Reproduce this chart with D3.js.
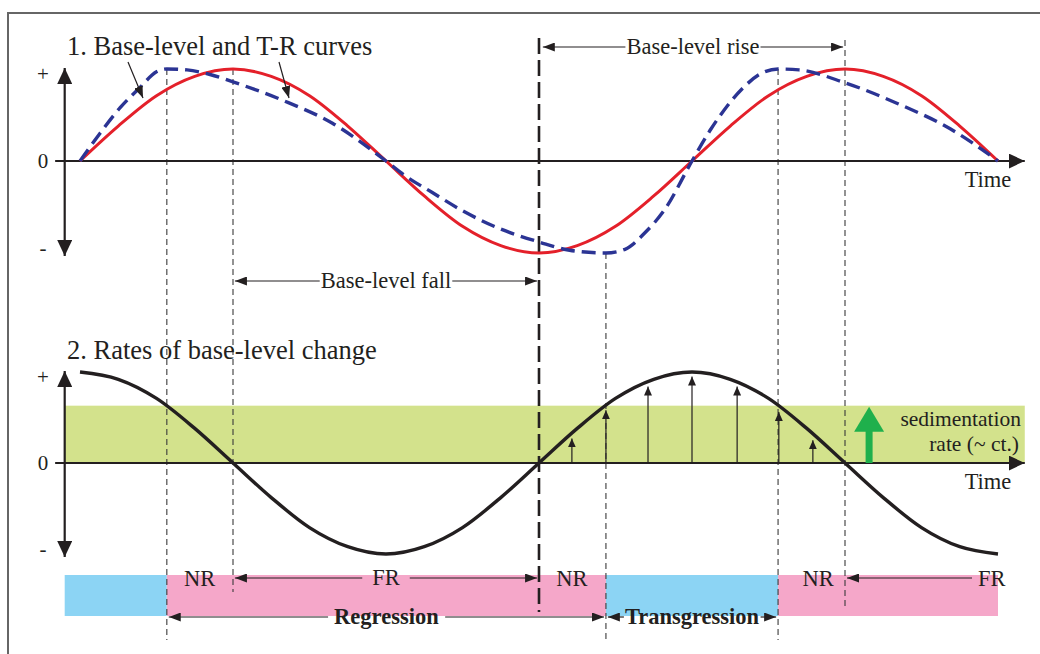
<!DOCTYPE html>
<html>
<head>
<meta charset="utf-8">
<script src="https://cdn.jsdelivr.net/npm/d3@7"></script>
<style>
  body { margin: 0; background: #fff; }
  svg text { font-family: "Liberation Serif", "Times New Roman", serif; fill: #231f20; }
</style>
</head>
<body>
<div id="chart"></div>
<script>
// time in arbitrary units, 0..24 = one and a half cycles
const timeSteps = d3.range(0, 25);
const baseLevel = [0, .38, .71, .92, 1, .92, .71, .38, 0, -.38, -.71, -.92, -1, -.92, -.71, -.38, 0, .38, .71, .92, 1, .92, .71, .38, 0];
const rateOfChange = [1, .92, .71, .38, 0, -.38, -.71, -.92, -1, -.92, -.71, -.38, 0, .38, .71, .92, 1, .92, .71, .38, 0, -.38, -.71, -.92, -1];

// T-R curve
const trTime  = [0, .52, 1.05, 1.57, 2.0, 2.27, 2.8, 3.4, 4, 5.3, 6.6, 8, 8.5, 9.2, 10.04, 11, 12, 12.8, 13.75, 14.25, 14.77, 15.3, 16, 16.5, 17.3, 17.8, 18.25, 18.8, 20, 21.4, 22.75, 24];
const trValue = [0, .30, .58, .80, .97, 1, .99, .94, .86, .66, .41, 0, -.16, -.34, -.55, -.74, -.88, -.97, -1, -.96, -.78, -.52, 0, .35, .78, .95, 1, .99, .85, .62, .35, 0];

// turning points of the T-R curve and base-level curve
const maxRegression = [2.27, 18.25];
const maxTransgression = [13.75];
const baseLevelHigh = [4, 20];
const baseLevelLow = 12;

// sedimentation rate (constant) and rates of base-level rise (arrows)
const sedRate = 0.63;
const sedArrowTime = 20.63;
const riseTime  = [12.86, 13.75, 14.85, 16, 17.18, 18.27, 19.16];
const riseValue = [.27, .58, .84, .95, .84, .56, .25];

// shoreline trajectory bars
const tractStart = [-0.4, 2.27, 13.75, 18.25];
const tractEnd   = [2.27, 13.75, 18.25, 24];
const tractType  = ['T', 'R', 'T', 'R'];
const phaseLabel = ['NR', 'FR', 'NR', 'NR', 'FR'];
const phaseTime  = [3.13, 7.97, 12.86, 19.3, 23.84];

const signLabels = ['+', '0', '-'];

const width = 1040, height = 654;

const svg = d3.select('#chart').append('svg')
  .attr('width', width).attr('height', height);

const defs = svg.append('defs');
function marker(id, w, h, color) {
  defs.append('marker')
    .attr('id', id)
    .attr('viewBox', `0 0 ${w} ${h}`)
    .attr('refX', w).attr('refY', h / 2)
    .attr('markerWidth', w).attr('markerHeight', h)
    .attr('markerUnits', 'userSpaceOnUse')
    .attr('orient', 'auto-start-reverse')
    .append('path')
    .attr('d', `M0,0L${w},${h / 2}L0,${h}Z`)
    .attr('fill', color);
}
marker('big', 16, 15, '#231f20');
marker('small', 12, 9, '#231f20');
marker('tiny', 9, 8, '#231f20');

const x = d3.scaleLinear().domain([0, 24]).range([80, 998]);
const yTop = d3.scaleLinear().domain([-1, 1]).range([253, 69]);
const yBot = d3.scaleLinear().domain([-1, 1]).range([554, 372]);

const axisT = -0.4, axisStart = -0.65, axisEnd = 24.7;
const labelSize = 22.5;

// frame
svg.append('path')
  .attr('d', `M8,${height}V13H${width}`)
  .attr('fill', 'none').attr('stroke', '#666').attr('stroke-width', 2);

// green sedimentation band
svg.append('rect')
  .attr('x', x(axisT)).attr('y', yBot(sedRate))
  .attr('width', x(axisEnd) - x(axisT))
  .attr('height', yBot(0) - yBot(sedRate))
  .attr('fill', '#d3e28c');

// shoreline trajectory bars
svg.selectAll('rect.tract')
  .data(tractStart)
  .join('rect')
  .attr('class', 'tract')
  .attr('x', d => x(d))
  .attr('y', 575)
  .attr('width', (d, i) => x(tractEnd[i]) - x(d))
  .attr('height', 41)
  .attr('fill', (d, i) => tractType[i] === 'T' ? '#8cd4f4' : '#f5a7c9');

// thin dashed guide lines
const guides = [
  { t: maxRegression[0], y1: yTop(1), y2: 640 },
  { t: baseLevelHigh[0], y1: yTop(1), y2: 592 },
  { t: maxTransgression[0], y1: yTop(-1), y2: 640 },
  { t: maxRegression[1], y1: yTop(1), y2: 640 },
  { t: baseLevelHigh[1], y1: 40, y2: 610 }
];
svg.selectAll('line.guide')
  .data(guides)
  .join('line')
  .attr('class', 'guide')
  .attr('x1', d => x(d.t)).attr('x2', d => x(d.t))
  .attr('y1', d => d.y1).attr('y2', d => d.y2)
  .attr('stroke', '#3a3a3a').attr('stroke-width', 1.1)
  .attr('stroke-dasharray', '6,4');

// long-dash line at base-level low
svg.append('line')
  .attr('x1', x(baseLevelLow)).attr('x2', x(baseLevelLow))
  .attr('y1', 38).attr('y2', 612)
  .attr('stroke', '#231f20').attr('stroke-width', 2.6)
  .attr('stroke-dasharray', '16,6');

// axes
function drawAxes(y) {
  svg.append('line')
    .attr('x1', x(axisT)).attr('x2', x(axisT))
    .attr('y1', y(0)).attr('y2', y(1) - 1)
    .attr('stroke', '#231f20').attr('stroke-width', 2.2)
    .attr('marker-end', 'url(#big)');
  svg.append('line')
    .attr('x1', x(axisT)).attr('x2', x(axisT))
    .attr('y1', y(0)).attr('y2', y(-1) + 3)
    .attr('stroke', '#231f20').attr('stroke-width', 2.2)
    .attr('marker-end', 'url(#big)');
  svg.append('line')
    .attr('x1', x(axisStart)).attr('x2', x(axisEnd))
    .attr('y1', y(0)).attr('y2', y(0))
    .attr('stroke', '#231f20').attr('stroke-width', 2.2)
    .attr('marker-end', 'url(#big)');
  svg.selectAll(null)
    .data(signLabels)
    .join('text')
    .attr('x', 43)
    .attr('y', (d, i) => y([0.95, 0, -0.95][i]) + 7)
    .attr('text-anchor', 'middle')
    .style('font-size', '21px')
    .text(d => d);
  svg.append('text')
    .attr('x', 988).attr('y', y(0) + 26)
    .attr('text-anchor', 'middle')
    .style('font-size', labelSize + 'px')
    .text('Time');
}
drawAxes(yTop);
drawAxes(yBot);

// curves
const line = (y) => d3.line().x(d => x(d[0])).y(d => y(d[1])).curve(d3.curveMonotoneX);

svg.append('path')
  .datum(timeSteps.map((t, i) => [t, baseLevel[i]]))
  .attr('d', line(yTop))
  .attr('fill', 'none').attr('stroke', '#e4202a').attr('stroke-width', 3);

svg.append('path')
  .datum(trTime.map((t, i) => [t, trValue[i]]))
  .attr('d', line(yTop))
  .attr('fill', 'none').attr('stroke', '#2b3494').attr('stroke-width', 3.4)
  .attr('stroke-dasharray', '14,7');

// rate arrows
svg.selectAll('line.rise')
  .data(riseTime)
  .join('line')
  .attr('class', 'rise')
  .attr('x1', d => x(d)).attr('x2', d => x(d))
  .attr('y1', yBot(0)).attr('y2', (d, i) => yBot(riseValue[i]))
  .attr('stroke', '#231f20').attr('stroke-width', 1.2)
  .attr('marker-end', 'url(#tiny)');

svg.append('path')
  .datum(timeSteps.map((t, i) => [t, rateOfChange[i]]))
  .attr('d', line(yBot))
  .attr('fill', 'none').attr('stroke', '#231f20').attr('stroke-width', 3.4);

// green sedimentation arrow
const gx = x(sedArrowTime);
svg.append('line')
  .attr('x1', gx).attr('x2', gx)
  .attr('y1', yBot(0)).attr('y2', yBot(sedRate) + 24)
  .attr('stroke', '#1fb04c').attr('stroke-width', 7);
svg.append('path')
  .attr('d', `M${gx - 15},${yBot(sedRate) + 26}L${gx},${yBot(sedRate) + 1}L${gx + 15},${yBot(sedRate) + 26}Z`)
  .attr('fill', '#1fb04c');
svg.append('text')
  .attr('x', 1021).attr('y', 426)
  .attr('text-anchor', 'end').style('font-size', '21.5px')
  .text('sedimentation');
svg.append('text')
  .attr('x', 1019).attr('y', 451)
  .attr('text-anchor', 'end').style('font-size', '21.5px')
  .text('rate (~ ct.)');

// titles
svg.append('text').attr('x', 67).attr('y', 55)
  .style('font-size', '26.5px').text('1. Base-level and T-R curves');
svg.append('text').attr('x', 67).attr('y', 359)
  .style('font-size', '26.5px').text('2. Rates of base-level change');

// pointers from title to curves
[[128, 62, 143, 98], [279, 62, 289, 98]].forEach(p => {
  svg.append('line')
    .attr('x1', p[0]).attr('y1', p[1]).attr('x2', p[2]).attr('y2', p[3])
    .attr('stroke', '#231f20').attr('stroke-width', 1.2)
    .attr('marker-end', 'url(#small)');
});

// labelled double arrows
function spanArrow(t1, t2, y, label, opts) {
  const o = Object.assign({ size: labelSize, weight: 'normal', pad: 4 }, opts);
  const x1 = x(t1), x2 = x(t2);
  const text = svg.append('text')
    .attr('x', (x1 + x2) / 2).attr('y', y + o.size * 0.33)
    .attr('text-anchor', 'middle')
    .style('font-size', o.size + 'px')
    .style('font-weight', o.weight)
    .text(label);
  const bb = text.node().getBBox();
  svg.append('line')
    .attr('x1', bb.x - o.pad).attr('x2', x1)
    .attr('y1', y).attr('y2', y)
    .attr('stroke', '#231f20').attr('stroke-width', 1.2)
    .attr('marker-end', 'url(#small)');
  svg.append('line')
    .attr('x1', bb.x + bb.width + o.pad).attr('x2', x2)
    .attr('y1', y).attr('y2', y)
    .attr('stroke', '#231f20').attr('stroke-width', 1.2)
    .attr('marker-end', 'url(#small)');
}
spanArrow(baseLevelLow + 0.1, baseLevelHigh[1] - 0.05, 47, 'Base-level rise', { pad: 1 });
spanArrow(baseLevelHigh[0] + 0.05, baseLevelLow - 0.05, 281, 'Base-level fall', { pad: 1 });
spanArrow(baseLevelHigh[0] + 0.05, baseLevelLow - 0.05, 578, 'FR', { pad: 10 });
spanArrow(maxRegression[0] + 0.05, maxTransgression[0] - 0.05, 617, 'Regression', { weight: 'bold', pad: 6 });
spanArrow(maxTransgression[0] + 0.05, maxRegression[1] - 0.05, 617, 'Transgression', { weight: 'bold', pad: 1 });

// NR / FR labels (the first FR is drawn with its arrow)
svg.selectAll('text.phase')
  .data(phaseLabel)
  .join('text')
  .attr('class', 'phase')
  .attr('x', (d, i) => x(phaseTime[i]))
  .attr('y', 586)
  .attr('text-anchor', 'middle')
  .style('font-size', labelSize + 'px')
  .text((d, i) => i === 1 ? '' : d);

// final FR arrow pointing back to base-level high
svg.append('line')
  .attr('x1', 972).attr('x2', x(baseLevelHigh[1]) + 2)
  .attr('y1', 578).attr('y2', 578)
  .attr('stroke', '#231f20').attr('stroke-width', 1.2)
  .attr('marker-end', 'url(#small)');
</script>
</body>
</html>
